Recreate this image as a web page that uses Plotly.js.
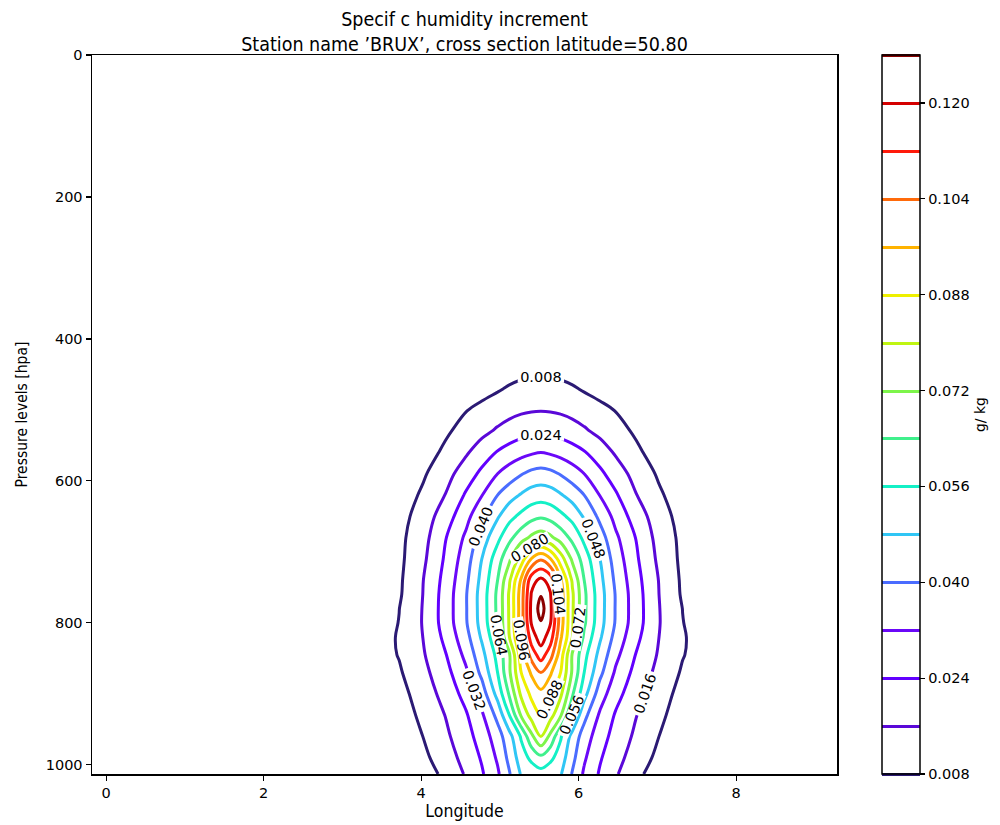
<!DOCTYPE html>
<html>
<head>
<meta charset="utf-8">
<script src="https://cdn.plot.ly/plotly-3.0.1.min.js"></script>
<style>html,body{margin:0;padding:0;background:#fff;}#chart{width:1000px;height:825px;}</style>
</head>
<body>
<div id="chart"></div>
<script>
// Longitude of grid columns
var longitudes = [3.32, 3.72, 4.02, 4.32, 4.57, 4.77, 4.97, 5.12, 5.27, 5.40, 5.52, 5.64, 5.77, 5.92, 6.07, 6.27, 6.47, 6.72, 7.02, 7.32, 7.72];
// Pressure levels of grid rows (hPa)
var pressureLevels = [400, 440, 470, 500, 530, 560, 590, 620, 650, 680, 710, 740, 760, 780, 800, 820, 845, 870, 900, 930, 960, 990, 1013];
// Specific humidity increment (g/kg), one row per pressure level
var incrementRows = [
[0,0,0,0,0,0,0,.0005,.0008,.001,.001,.001,.0008,.0005,0,0,0,0,0,0,0],
[0,0,.0001,.0005,.0012,.0021,.0032,.0042,.0052,.0058,.006,.0058,.0052,.0042,.0032,.0021,.0012,.0005,.0001,0,0],
[0,0,.0006,.0018,.0035,.0052,.0072,.0088,.0100,.0107,.011,.0107,.0100,.0088,.0072,.0052,.0035,.0018,.0006,0,0],
[0,.0006,.0022,.0050,.0077,.0100,.0120,.0135,.0147,.0153,.0155,.0153,.0147,.0135,.0120,.0100,.0077,.0050,.0022,.0006,0],
[0,.0012,.0035,.0070,.0108,.0140,.0171,.0193,.0212,.0225,.023,.0225,.0212,.0193,.0171,.0140,.0108,.0070,.0035,.0012,0],
[0,.0015,.0045,.0097,.0151,.0199,.0246,.0273,.0295,.031,.032,.031,.0295,.0273,.0246,.0199,.0151,.0097,.0045,.0015,0],
[.0003,.003,.0069,.0134,.020,.0258,.032,.0358,.0395,.042,.043,.042,.0395,.0358,.032,.0258,.020,.0134,.0069,.003,.0003],
[.0005,.0035,.0092,.0165,.025,.0317,.040,.0448,.0487,.0515,.0525,.0515,.0487,.0448,.040,.0317,.025,.0165,.0092,.0035,.0005],
[.001,.005,.0115,.0205,.0295,.0381,.0471,.0535,.058,.0615,.063,.0615,.058,.0535,.0471,.0381,.0295,.0205,.0115,.005,.001],
[.0015,.006,.013,.024,.0335,.0437,.054,.0619,.0686,.0735,.076,.0735,.0686,.0619,.054,.0437,.0335,.024,.013,.006,.0015],
[.0015,.0062,.0143,.0255,.0363,.048,.0604,.0705,.084,.0965,.103,.0965,.084,.0705,.0604,.048,.0363,.0255,.0143,.0062,.0015],
[.0018,.0067,.0157,.027,.0384,.0503,.064,.0789,.0973,.117,.122,.117,.0973,.0789,.064,.0503,.0384,.027,.0157,.0067,.0018],
[.002,.007,.016,.0278,.0395,.0514,.0656,.0811,.100,.1206,.1275,.1206,.100,.0811,.0656,.0514,.0395,.0278,.016,.007,.002],
[.002,.0079,.0163,.028,.0395,.0514,.0656,.081,.100,.122,.131,.122,.100,.081,.0656,.0514,.0395,.028,.0163,.0079,.002],
[.0025,.0082,.0164,.0278,.0393,.051,.0652,.0808,.100,.1206,.1275,.1206,.100,.0808,.0652,.051,.0393,.0278,.0164,.0082,.0025],
[.0028,.0087,.016,.0263,.0373,.0491,.0624,.080,.0973,.116,.124,.116,.0973,.080,.0624,.0491,.0373,.0263,.016,.0087,.0028],
[.0028,.0084,.0151,.024,.0341,.0455,.0584,.0711,.092,.1074,.116,.1074,.092,.0711,.0584,.0455,.0341,.024,.0151,.0084,.0028],
[.0025,.0071,.0136,.0217,.0308,.042,.056,.0709,.088,.0971,.104,.0971,.088,.0709,.056,.042,.0308,.0217,.0136,.0071,.0025],
[.0015,.0054,.0115,.0192,.0268,.036,.0507,.0651,.0816,.0898,.094,.0898,.0816,.0651,.0507,.036,.0268,.0192,.0115,.0054,.0015],
[.001,.0043,.0096,.0165,.0232,.0308,.0424,.056,.073,.0832,.089,.0832,.073,.056,.0424,.0308,.0232,.0165,.0096,.0043,.001],
[.0008,.0035,.008,.0147,.0211,.0274,.0363,.0453,.057,.070,.080,.070,.057,.0453,.0363,.0274,.0211,.0147,.008,.0035,.0008],
[.0005,.0025,.0061,.0124,.0189,.0248,.0331,.0422,.052,.058,.062,.058,.052,.0422,.0331,.0248,.0189,.0124,.0061,.0025,.0005],
[.0003,.0015,.0045,.0099,.0169,.0231,.0308,.0394,.0487,.051,.053,.051,.0487,.0394,.0308,.0231,.0169,.0099,.0045,.0015,.0003]
];
// Contour levels and colours
var levelStart = 0.008, levelEnd = 0.128, levelStep = 0.008;
var levelColors = ['#2b1a74','#5a08d8','#6200ff','#6a08f8','#4a6cff','#30c6f5','#14f0c6','#40f08c','#7df54a','#bff511','#eef000','#ffb300','#ff6a0a','#ff1a0a','#d40000','#8b0000'];
var colorbarTicks = [0.008, 0.024, 0.040, 0.056, 0.072, 0.088, 0.104, 0.120];
var xTicks = [0, 2, 4, 6, 8];
var yTicks = [0, 200, 400, 600, 800, 1000];

var colorscale = levelColors.map(function (c, i) { return [i / (levelColors.length - 1), c]; });
var condensed = 'DejaVu Sans Condensed, DejaVu Sans';

var trace = {
  type: 'contour',
  x: longitudes,
  y: pressureLevels,
  z: incrementRows,
  zauto: false, zmin: levelStart, zmax: levelEnd,
  autocontour: false,
  contours: {
    start: levelStart, end: levelEnd, size: levelStep,
    coloring: 'lines', showlabels: true,
    labelfont: {family: 'DejaVu Sans', size: 14.5, color: '#000'},
    labelformat: '.3f'
  },
  line: {width: 3, smoothing: 1},
  colorscale: colorscale,
  hoverinfo: 'skip',
  colorbar: {
    x: 1.0604, xanchor: 'left', xpad: 0, ypad: 0,
    y: 0.5, yanchor: 'middle', len: 1, lenmode: 'fraction',
    thickness: 38, thicknessmode: 'pixels',
    outlinewidth: 1.5, outlinecolor: '#000',
    tickvals: colorbarTicks, ticktext: colorbarTicks.map(function (v) { return v.toFixed(3); }),
    ticks: 'outside', ticklen: 5, tickwidth: 1.2, tickcolor: '#000',
    tickfont: {family: 'DejaVu Sans', size: 14.5, color: '#000'},
    title: {text: 'g/ kg', side: 'right', font: {family: 'DejaVu Sans', size: 14, color: '#000'}}
  }
};

var axisCommon = {
  showgrid: false, zeroline: false, showline: true, mirror: true,
  linecolor: '#000', linewidth: 1.5,
  ticks: 'outside', ticklen: 5, tickwidth: 1.2, tickcolor: '#000',
  tickfont: {family: 'DejaVu Sans', size: 14.5, color: '#000'}
};

var layout = {
  width: 1000, height: 825,
  margin: {l: 92, r: 163, t: 55, b: 51},
  paper_bgcolor: '#fff', plot_bgcolor: '#fff',
  font: {family: 'DejaVu Sans', color: '#000'},
  title: {
    text: 'Specif c humidity increment<br>Station name ’BRUX’, cross section latitude=50.80',
    x: 0.5, xref: 'paper', y: 0.969, yref: 'container', yanchor: 'middle',
    font: {family: condensed, size: 19.5, color: '#000'}
  },
  xaxis: Object.assign({}, axisCommon, {
    range: [-0.18, 9.28], tickvals: xTicks,
    title: {text: 'Longitude', standoff: 4, font: {family: condensed, size: 17.5, color: '#000'}}
  }),
  yaxis: Object.assign({}, axisCommon, {
    range: [1013, 0], tickvals: yTicks,
    title: {text: 'Pressure levels [hpa]', standoff: 14, font: {family: condensed, size: 15.5, color: '#000'}}
  }),
  showlegend: false
};

Plotly.newPlot('chart', [trace], layout, {displayModeBar: false, staticPlot: true});
</script>
</body>
</html>
